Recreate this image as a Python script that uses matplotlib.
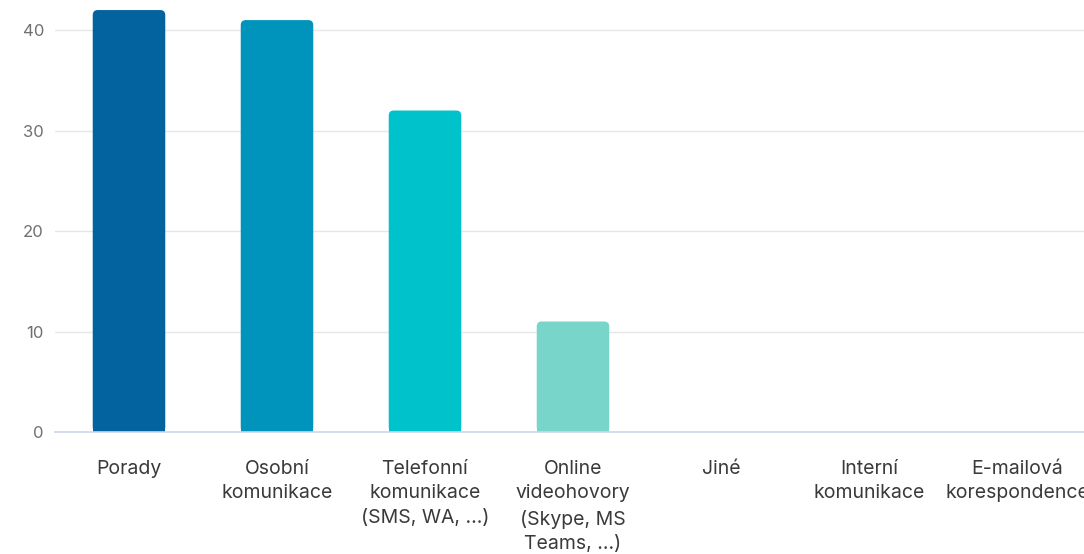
"""
Komunikační kanály - sloupcový graf
"""
import matplotlib.pyplot as plt
from matplotlib.patches import FancyBboxPatch, Rectangle

categories = ['Porady', 'Osobní\nkomunikace', 'Telefonní\nkomunikace\n(SMS, WA, ...)',
              'Online\nvideohovory\n(Skype, MS\nTeams, ...)', 'Jiné', 'Interní\nkomunikace',
              'E-mailová\nkorespondence']
values = [42, 41, 32, 11, 0, 0, 0]
colors = ['#02639e', '#0093bc', '#00c2cb', '#78d5ca', '#78d5ca', '#78d5ca', '#78d5ca']
y_ticks = [0, 10, 20, 30, 40]

plt.rcParams['font.family'] = ['Inter', 'DejaVu Sans']

fig = plt.figure(figsize=(10.84, 5.54), dpi=100)
# right edge of the plot area runs past the figure, like the original
ax = fig.add_axes([55 / 1084, (554 - 432) / 554, (1091 - 55) / 1084, 432 / 554])

x = list(range(len(categories)))
bar_w = 0.49
bars = ax.bar(x, values, width=bar_w, color=colors, zorder=3)

# swap plain bars for ones with rounded top corners
r = 0.034
aspect = 14.7
for b, c in zip(bars, colors):
    h = b.get_height()
    if h <= 0:
        continue
    b.set_visible(False)
    x0 = b.get_x()
    ax.add_patch(FancyBboxPatch((x0, 0), bar_w, h,
                                boxstyle=f"round,pad=0,rounding_size={r}",
                                mutation_aspect=aspect, facecolor=c, edgecolor='none', zorder=3))
    ax.add_patch(Rectangle((x0, 0), bar_w, h / 2, facecolor=c, edgecolor='none', zorder=3))

ax.set_xlim(-0.5, len(categories) - 0.5)
ax.set_ylim(0, 43)
ax.set_yticks(y_ticks)
ax.set_xticks(x)
ax.set_xticklabels(categories, linespacing=1.48, va='top')

ax.grid(axis='y', color='#e6e6e6', linewidth=1, zorder=0)
for side in ['top', 'right', 'left']:
    ax.spines[side].set_visible(False)
ax.spines['bottom'].set_color('#ccd6eb')
ax.spines['bottom'].set_linewidth(1.2)
ax.spines['bottom'].set_zorder(4)

ax.tick_params(axis='y', length=0, pad=8, labelsize=12, labelcolor='#707070')
ax.tick_params(axis='x', length=0, pad=20, labelsize=14, labelcolor='#3a3a3a')

plt.savefig('out.png', dpi=100)
